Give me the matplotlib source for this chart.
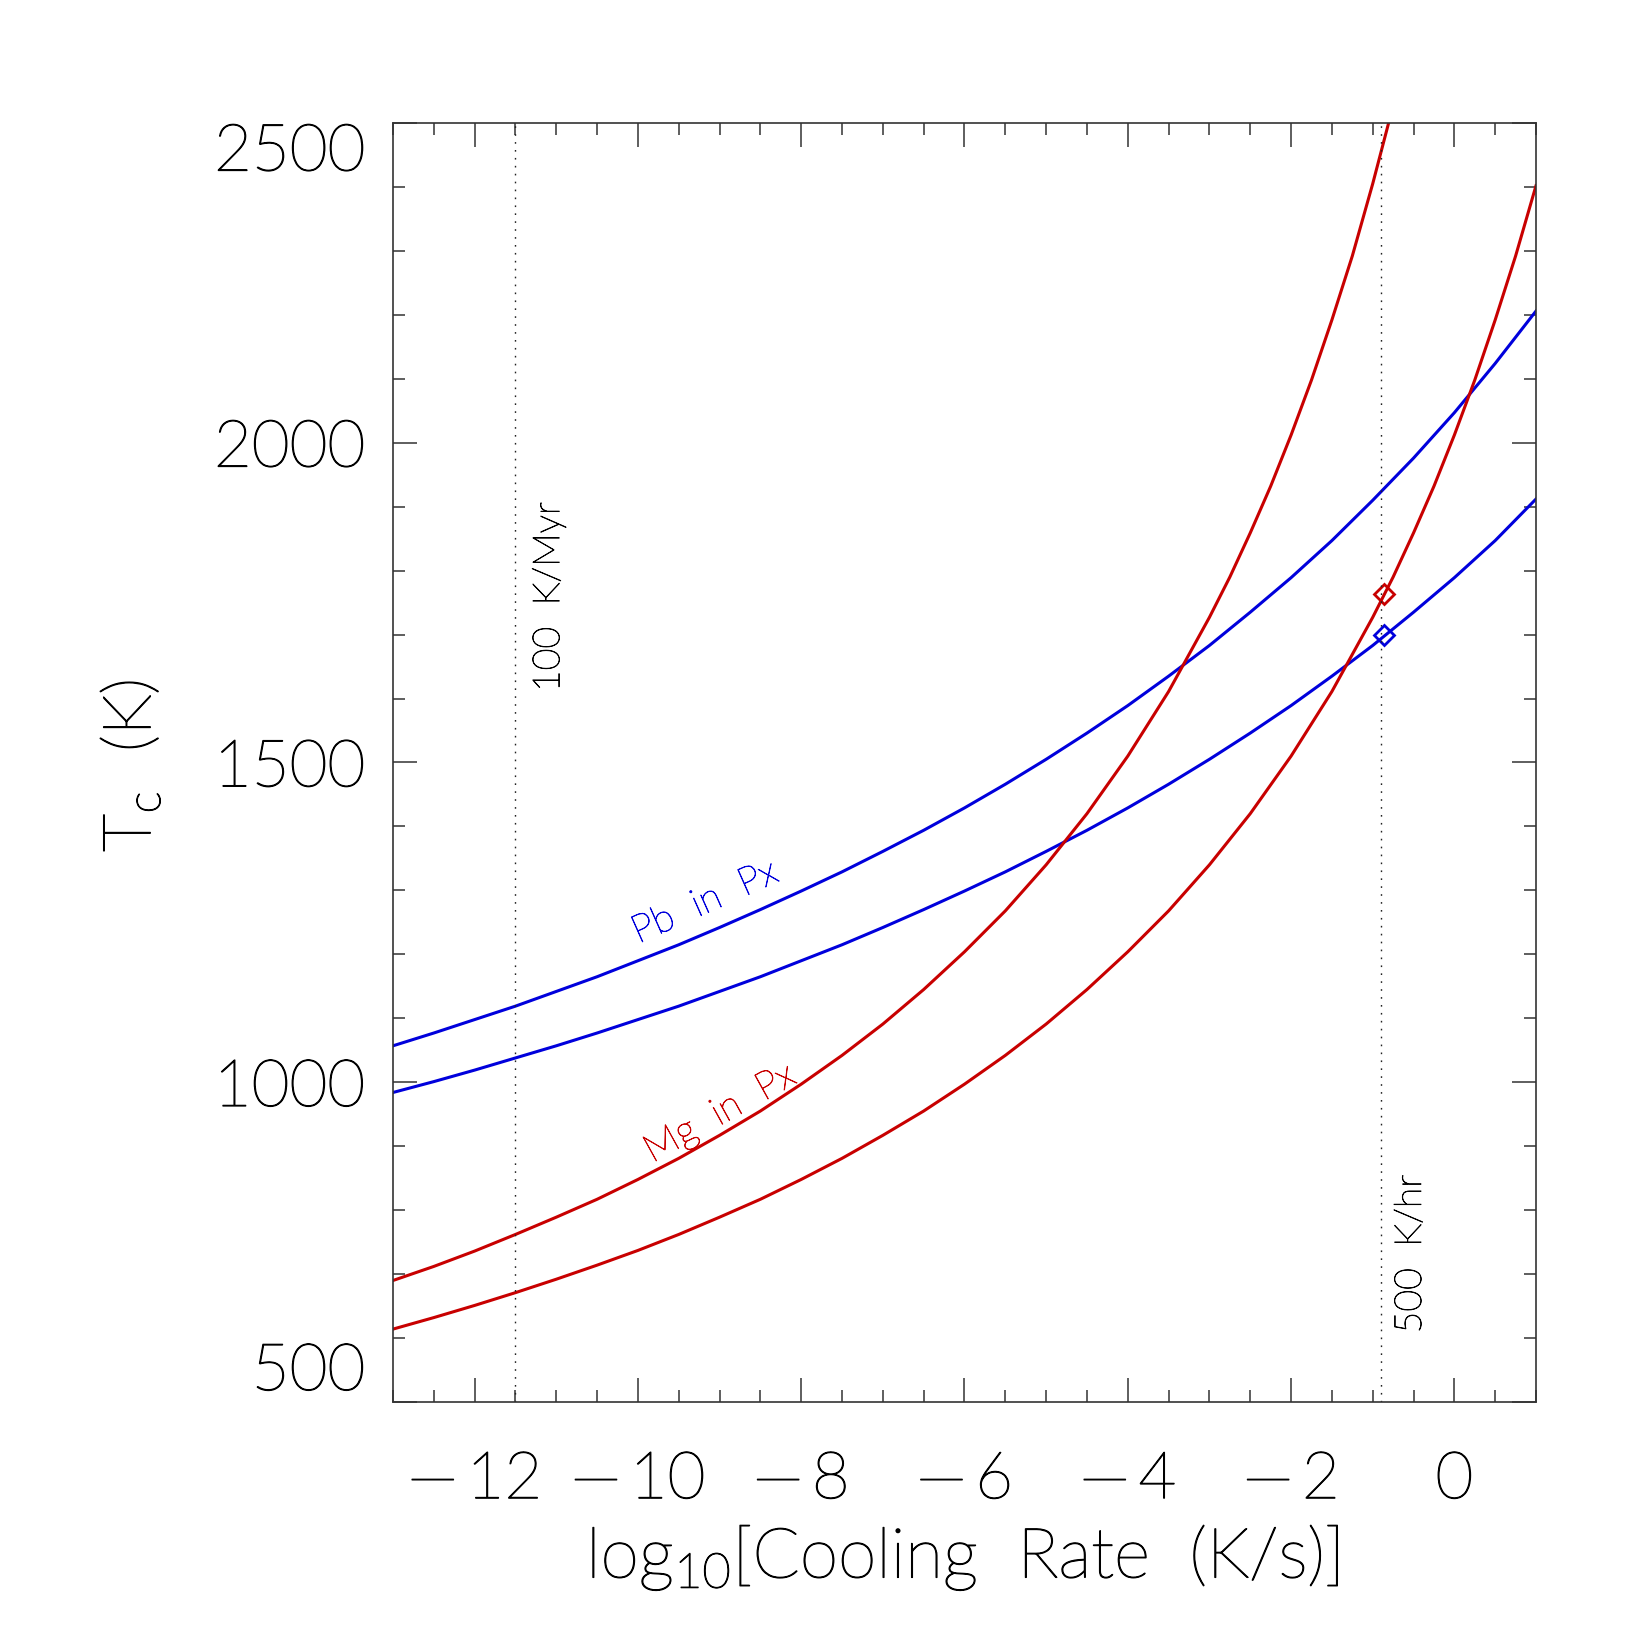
import matplotlib
matplotlib.use("Agg")
import matplotlib.pyplot as plt
import matplotlib.patheffects as pe
from matplotlib.ticker import MultipleLocator, FixedLocator

plt.rcParams['font.family'] = ['Lato', 'DejaVu Sans']
plt.rcParams['font.weight'] = 'light'
plt.rcParams['mathtext.fontset'] = 'custom'
plt.rcParams['mathtext.rm'] = 'Lato:light'
plt.rcParams['mathtext.it'] = 'Lato:light'

# ---- data ----
x_pb = [-13, -12.5, -12, -11.5, -11, -10.5, -10, -9.5, -9, -8.5, -8, -7.5, -7, -6.5, -6,
        -5.5, -5, -4.5, -4, -3.5, -3, -2.5, -2, -1.5, -1, -0.5, 0, 0.5, 1]
pb_upper = [1057, 1077, 1098, 1119, 1142, 1165, 1190, 1215, 1242, 1270, 1299, 1329, 1361, 1394, 1429,
            1466, 1505, 1546, 1589, 1635, 1683, 1735, 1789, 1847, 1910, 1976, 2047, 2124, 2206]
pb_lower = [984, 1001, 1019, 1038, 1057, 1077, 1098, 1119, 1142, 1165, 1190, 1215, 1242, 1270, 1299,
            1329, 1361, 1394, 1429, 1466, 1505, 1546, 1589, 1635, 1683, 1735, 1789, 1847, 1912]

x_mg_upper = [-13, -12.5, -12, -11.5, -11, -10.5, -10, -9.5, -9, -8.5, -8, -7.5, -7, -6.5, -6,
              -5.5, -5, -4.5, -4, -3.5, -3, -2.75, -2.5, -2.25, -2, -1.75, -1.5, -1.25, -1, -0.75]
mg_upper = [690, 712, 736, 762, 789, 817, 848, 881, 917, 955, 997, 1042, 1091, 1145, 1204,
            1268, 1340, 1420, 1510, 1611, 1727, 1790, 1859, 1932, 2012, 2098, 2192, 2292, 2405, 2527]

x_mg_lower = [-13, -12.5, -12, -11.5, -11, -10.5, -10, -9.5, -9, -8.5, -8, -7.5, -7, -6.5, -6,
              -5.5, -5, -4.5, -4, -3.5, -3, -2.5, -2, -1.5, -1, -0.75, -0.5, -0.25, 0, 0.25, 0.5, 0.75, 1]
mg_lower = [614, 632, 651, 671, 692, 714, 737, 762, 789, 817, 848, 881, 917, 955, 997,
            1042, 1091, 1145, 1204, 1268, 1340, 1420, 1510, 1611, 1727, 1790, 1859, 1932, 2012, 2098, 2192, 2292, 2402]

marker_x = [-0.866]
marker_mg = [1763]
marker_pb = [1700]

rate_lines = [-11.5, -0.9]
rate_labels = ['100  K/Myr', '500  K/hr']

xticks_major = [-12, -10, -8, -6, -4, -2, 0]
yticks_major = [500, 1000, 1500, 2000, 2500]

BLUE = '#0000DC'
RED = '#C80000'


def thick(t, col='black', w=0.9):
    t.set_path_effects([pe.withStroke(linewidth=w, foreground=col)])
    return t


W = 1652
fig = plt.figure(figsize=(16.52, 16.52), dpi=100)
ax = fig.add_axes([393 / W, 1 - 1402 / W, (1536 - 393) / W, (1402 - 123) / W])

ax.plot(x_pb, pb_upper, color=BLUE, lw=2.2)
ax.plot(x_pb, pb_lower, color=BLUE, lw=2.2)
ax.plot(x_mg_upper, mg_upper, color=RED, lw=2.2)
ax.plot(x_mg_lower, mg_lower, color=RED, lw=2.2)

ax.plot(marker_x, marker_mg, ls='none', marker='D', ms=10, mfc='none', mec=RED, mew=2.0)
ax.plot(marker_x, marker_pb, ls='none', marker='D', ms=10, mfc='none', mec=BLUE, mew=2.0)

for xv in rate_lines:
    ax.axvline(xv, color='#222222', lw=1.0, ls=(0, (1.2, 4.5)))

ax.set_xlim(-13, 1)
ax.set_ylim(500, 2500)

ax.xaxis.set_major_locator(FixedLocator(xticks_major))
ax.xaxis.set_minor_locator(MultipleLocator(0.5))
ax.yaxis.set_major_locator(FixedLocator(yticks_major))
ax.yaxis.set_minor_locator(MultipleLocator(100))

ax.tick_params(which='both', direction='in', top=True, right=True, width=1.1, color='#333333')
ax.tick_params(which='major', length=17)
ax.tick_params(which='minor', length=8.5)
ax.tick_params(axis='x', which='major', labelsize=47, pad=35)
ax.tick_params(axis='y', which='major', labelsize=47, pad=20)

for sp in ax.spines.values():
    sp.set_linewidth(1.2)
    sp.set_color('#333333')

ax.set_xticklabels([('\u2014\u2009' + str(-t)) if t < 0 else str(t) for t in xticks_major])
ax.set_yticklabels([str(t) for t in yticks_major])
ylabs = ax.get_yticklabels()
ylabs[0].set_verticalalignment('bottom')
ylabs[-1].set_verticalalignment('top')
for t in ax.get_xticklabels() + ax.get_yticklabels():
    thick(t)

thick(fig.text(963 / W, 1 - 1558 / W, r'log$_{\mathrm{10}}$[Cooling  Rate  (K/s)]', fontsize=50,
               ha='center', va='center'))
thick(fig.text(131 / W, 1 - 766 / W, r'T$_{\mathrm{c}}$  (K)', fontsize=48, rotation=90,
               ha='center', va='center'))

thick(fig.text(549 / W, 1 - 597 / W, rate_labels[0], fontsize=27, rotation=90,
               ha='center', va='center'), w=0.6)
thick(fig.text(1411 / W, 1 - 1254 / W, rate_labels[1], fontsize=27, rotation=90,
               ha='center', va='center'), w=0.6)

thick(fig.text(705 / W, 1 - 902 / W, 'Pb  in  Px', fontsize=28, rotation=24, color=BLUE,
               ha='center', va='center', rotation_mode='anchor'), BLUE, 0.6)
thick(fig.text(720 / W, 1 - 1113 / W, 'Mg  in  Px', fontsize=28, rotation=29, color=RED,
               ha='center', va='center', rotation_mode='anchor'), RED, 0.6)

fig.savefig('out.png', dpi=100, facecolor='white')
